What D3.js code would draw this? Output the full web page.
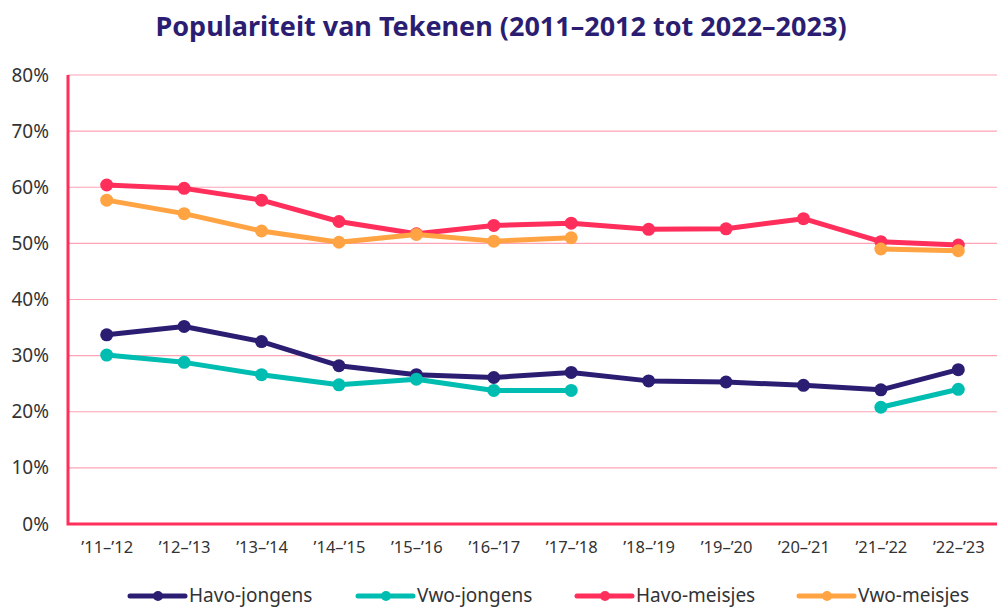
<!DOCTYPE html>
<html>
<head>
<meta charset="utf-8">
<script src="https://cdn.jsdelivr.net/npm/d3@7"></script>
<style>
  body { margin: 0; background: #fff; }
  text { font-family: "Noto Sans", sans-serif; }
</style>
</head>
<body>
<div id="chart"></div>
<script>
// School years on the x axis
const years = ["’11–’12", "’12–’13", "’13–’14", "’14–’15", "’15–’16", "’16–’17",
               "’17–’18", "’18–’19", "’19–’20", "’20–’21", "’21–’22", "’22–’23"];

// Percentages per series (null = no data)
const havoJongens = [33.7, 35.2, 32.5, 28.2, 26.6, 26.1, 27.0, 25.5, 25.3, 24.7, 23.9, 27.5];
const vwoJongens  = [30.1, 28.8, 26.6, 24.8, 25.8, 23.8, 23.8, null, null, null, 20.8, 24.0];
const havoMeisjes = [60.4, 59.8, 57.7, 53.9, 51.7, 53.2, 53.6, 52.5, 52.6, 54.4, 50.3, 49.7];
const vwoMeisjes  = [57.7, 55.3, 52.2, 50.2, 51.6, 50.4, 51.0, null, null, null, 49.0, 48.7];

const yTicks = [0, 10, 20, 30, 40, 50, 60, 70, 80];

const series = [
    {name: "Havo-jongens", values: havoJongens, color: "#2b1e72"},
    {name: "Vwo-jongens",  values: vwoJongens,  color: "#00bdb2"},
    {name: "Havo-meisjes", values: havoMeisjes, color: "#ff2e5b"},
    {name: "Vwo-meisjes",  values: vwoMeisjes,  color: "#ffa343"}
];

const W = 997, H = 609;
const margin = {top: 75, right: 0, bottom: 85, left: 68};
const width = W - margin.left - margin.right;
const height = H - margin.top - margin.bottom;

const svg = d3.select("#chart")
    .append("svg")
    .attr("width", W)
    .attr("height", H);

// Title
svg.append("text")
    .attr("x", 501)
    .attr("y", 36)
    .attr("text-anchor", "middle")
    .style("font-size", "27px")
    .style("font-weight", "bold")
    .style("fill", "#2b1e72")
    .text("Populariteit van Tekenen (2011–2012 tot 2022–2023)");

const g = svg.append("g")
    .attr("transform", `translate(${margin.left},${margin.top})`);

const x = d3.scalePoint()
    .domain(years)
    .range([0, width])
    .padding(0.5);

const y = d3.scaleLinear()
    .domain([0, 80])
    .range([height, 0]);

// Gridlines
g.selectAll(".grid")
    .data(yTicks.slice(1))
    .enter().append("line")
    .attr("x1", 0)
    .attr("x2", width)
    .attr("y1", d => y(d))
    .attr("y2", d => y(d))
    .attr("stroke", "#ffa3b5")
    .attr("stroke-width", 1.2);

// Y axis labels
const yAxis = g.append("g")
    .call(d3.axisLeft(y).tickValues(yTicks).tickFormat(d => d + "%").tickSize(0).tickPadding(19));
yAxis.select(".domain").remove();
yAxis.selectAll("text")
    .style("font-size", "19px")
    .style("fill", "#333")
    .style("font-family", "'Noto Sans', sans-serif");

// X axis labels
const xAxis = g.append("g")
    .attr("transform", `translate(0,${height})`)
    .call(d3.axisBottom(x).tickSize(0).tickPadding(17));
xAxis.select(".domain").remove();
xAxis.selectAll("text")
    .style("font-size", "16.5px")
    .style("fill", "#333")
    .style("font-family", "'Noto Sans', sans-serif");

// Axis lines (left and bottom)
g.append("path")
    .attr("d", `M0,0V${height}H${width}`)
    .attr("fill", "none")
    .attr("stroke", "#ff2e5b")
    .attr("stroke-width", 3);

const line = d3.line()
    .defined(d => d != null)
    .x((d, i) => x(years[i]))
    .y(d => y(d));

series.forEach(s => {
    g.append("path")
        .datum(s.values)
        .attr("d", line)
        .attr("fill", "none")
        .attr("stroke", s.color)
        .attr("stroke-width", 5)
        .attr("stroke-linejoin", "round");

    g.selectAll(null)
        .data(s.values.map((v, i) => ({v, i})).filter(d => d.v != null))
        .enter().append("circle")
        .attr("cx", d => x(years[d.i]))
        .attr("cy", d => y(d.v))
        .attr("r", 6.5)
        .attr("fill", s.color);
});

// Legend
const legendX = [130, 358, 577, 799];
const legend = svg.selectAll(".legend")
    .data(series)
    .enter().append("g")
    .attr("class", "legend")
    .attr("transform", (d, i) => `translate(${legendX[i]},596)`);

legend.append("line")
    .attr("x1", 0)
    .attr("x2", 55)
    .attr("stroke", d => d.color)
    .attr("stroke-width", 5)
    .attr("stroke-linecap", "round");

legend.append("circle")
    .attr("cx", 28)
    .attr("r", 5)
    .attr("fill", d => d.color);

legend.append("text")
    .attr("x", 59)
    .attr("dy", "0.32em")
    .style("font-size", "19px")
    .style("fill", "#333")
    .text(d => d.name);
</script>
</body>
</html>
